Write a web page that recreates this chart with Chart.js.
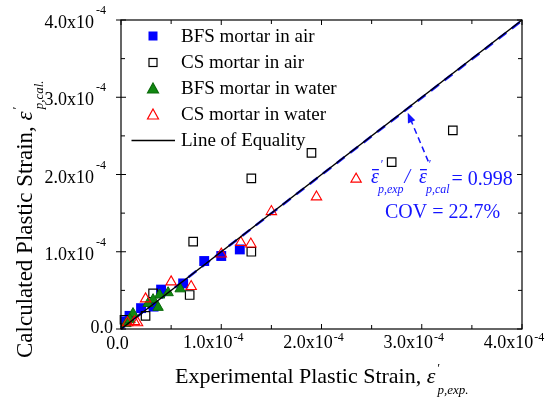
<!DOCTYPE html>
<html><head><meta charset="utf-8">
<script src="https://cdn.jsdelivr.net/npm/chart.js@4"></script>
<style>html,body{margin:0;padding:0;background:#fff}#wrap{width:559px;height:399px}</style>
</head><body><div id="wrap"><canvas id="c" width="559" height="399"></canvas></div>
<script>
// values in units of 1e-4
const bfsAirExp = [0.05, 0.085, 0.20, 0.325, 0.40, 0.62, 0.83, 1.00, 1.185];
const bfsAirCal = [0.10, 0.17, 0.27, 0.29, 0.51, 0.59, 0.88, 0.945, 1.03];
const csAirExp = [3.31, 2.70, 1.90, 1.30, 0.72, 1.30, 0.685, 0.32, 0.245, 0.035];
const csAirCal = [2.57, 2.16, 2.28, 1.95, 1.13, 1.00, 0.44, 0.46, 0.17, 0.12];
const bfsWaterExp = [0.47, 0.59, 0.385, 0.32, 0.37, 0.12, 0.05, 0.27, 0.09];
const bfsWaterCal = [0.47, 0.52, 0.44, 0.38, 0.28, 0.20, 0.07, 0.33, 0.12];
const csWaterExp = [2.345, 1.95, 1.50, 1.195, 1.295, 1.00, 0.50, 0.70, 0.245, 0.135, 0.165, 0.065];
const csWaterCal = [1.94, 1.71, 1.52, 1.12, 1.10, 0.97, 0.61, 0.55, 0.39, 0.095, 0.08, 0.08];
const equalityX = [0, 4];
const equalityY = [0, 4];
const fitY = [0, 3.992];
const seriesNames = ['BFS mortar in air', 'CS mortar in air', 'BFS mortar in water', 'CS mortar in water', 'Line of Equality'];
const tickValues = [0, 1, 2, 3, 4];
const minorTickValues = [0.5, 1.5, 2.5, 3.5];
const tickMantissa = ['0.0', '1.0x10', '2.0x10', '3.0x10', '4.0x10'];
const tickExponent = ['', '-4', '-4', '-4', '-4'];
const ratioText = '= 0.998';
const covText = 'COV = 22.7%';
const arrowFrom = [3.065, 2.17];
const arrowTo = [2.86, 2.80];

const pts = (xs, ys) => xs.map((x, i) => ({x: x, y: ys[i]}));
const SERIF = '"Liberation Serif", "Times New Roman", serif';
const BLUE = '#1414ff';

const decor = {
  id: 'decor',
  afterDraw(chart) {
    const ctx = chart.ctx, a = chart.chartArea, xs = chart.scales.x, ys = chart.scales.y;
    ctx.save();
    // frame
    ctx.strokeStyle = '#000'; ctx.lineWidth = 1.2;
    ctx.strokeRect(a.left, a.top, a.right - a.left, a.bottom - a.top);
    // ticks
    ctx.lineWidth = 1;
    ctx.beginPath();
    tickValues.forEach(v => {
      const px = xs.getPixelForValue(v), py = ys.getPixelForValue(v);
      ctx.moveTo(px, a.bottom); ctx.lineTo(px, a.bottom - 5);
      ctx.moveTo(px, a.top); ctx.lineTo(px, a.top + 5);
      ctx.moveTo(a.left - 5, py); ctx.lineTo(a.left + 5, py);
      ctx.moveTo(a.right, py); ctx.lineTo(a.right - 5, py);
    });
    minorTickValues.forEach(v => {
      const px = xs.getPixelForValue(v), py = ys.getPixelForValue(v);
      ctx.moveTo(px, a.bottom); ctx.lineTo(px, a.bottom - 4);
      ctx.moveTo(px, a.top); ctx.lineTo(px, a.top + 4);
      ctx.moveTo(a.left, py); ctx.lineTo(a.left + 4, py);
      ctx.moveTo(a.right, py); ctx.lineTo(a.right - 4, py);
    });
    ctx.stroke();
    // tick labels
    ctx.fillStyle = '#000';
    ctx.textBaseline = 'alphabetic';
    const mainF = '18px ' + SERIF, supF = '12px ' + SERIF;
    tickValues.forEach((v, i) => {
      ctx.font = mainF; const w1 = ctx.measureText(tickMantissa[i]).width;
      ctx.font = supF; const w2 = tickExponent[i] ? ctx.measureText(tickExponent[i]).width + 2 : 0;
      // x labels
      const px = xs.getPixelForValue(v);
      const left = px - (w1 + w2) / 2 - (w2 ? 7.5 : 3.5);
      ctx.textAlign = 'left';
      ctx.font = mainF; ctx.fillText(tickMantissa[i], left, a.bottom + (w2 ? 19 : 20));
      if (w2) { ctx.font = supF; ctx.fillText(tickExponent[i], left + w1 + 1, a.bottom + 12); }
      // y labels
      const py = ys.getPixelForValue(v);
      const right = w2 ? a.left - 15 : a.left - 8;
      ctx.font = mainF; ctx.fillText(tickMantissa[i], right - w2 - w1, py + (w2 ? 8 : 4));
      if (w2) { ctx.font = supF; ctx.fillText(tickExponent[i], right - w2 + 2, py - 6); }
    });
    // axis titles
    const drawTitle = (txt, sub, size) => {
      ctx.font = size + 'px ' + SERIF; ctx.textAlign = 'left';
      let w = ctx.measureText(txt).width;
      ctx.fillText(txt, 0, 0);
      ctx.font = 'italic ' + size + 'px ' + SERIF;
      ctx.fillText('\u03b5', w, 0);
      const we = ctx.measureText('\u03b5').width;
      ctx.font = 'italic 13px ' + SERIF;
      ctx.fillText('\u2032', w + we + 1, -11);
      ctx.fillText(sub, w + we + 2, 11);
    };
    ctx.save();
    ctx.translate(175, 383);
    drawTitle('Experimental Plastic Strain, ', 'p,exp.', 22);
    ctx.restore();
    ctx.save();
    ctx.translate(32, 358); ctx.rotate(-Math.PI / 2);
    drawTitle('Calculated Plastic Strain, ', 'p,cal.', 23);
    ctx.restore();
    // legend
    const rowsY = [36, 62.5, 88.5, 114.5, 140.5];
    const mx = 153;
    ctx.font = '19px ' + SERIF; ctx.textBaseline = 'middle'; ctx.textAlign = 'left'; ctx.fillStyle = '#000';
    seriesNames.forEach((n, i) => ctx.fillText(n, 181, rowsY[i] + 1));
    ctx.fillStyle = '#0000ff'; ctx.fillRect(mx - 4.5, rowsY[0] - 4.5, 9, 9);
    ctx.strokeStyle = '#000'; ctx.lineWidth = 1.2; ctx.strokeRect(mx - 4, rowsY[1] - 4, 8, 8);
    const tri = (cy, fill, stroke) => {
      ctx.beginPath(); ctx.moveTo(mx, cy - 5.5); ctx.lineTo(mx + 5.5, cy + 4.5); ctx.lineTo(mx - 5.5, cy + 4.5); ctx.closePath();
      if (fill) { ctx.fillStyle = fill; ctx.fill(); }
      ctx.strokeStyle = stroke; ctx.lineWidth = 1.2; ctx.stroke();
    };
    tri(rowsY[2], '#118811', '#0a6a0a');
    tri(rowsY[3], null, '#ff0000');
    ctx.strokeStyle = '#000'; ctx.lineWidth = 1.5;
    ctx.beginPath(); ctx.moveTo(131.5, rowsY[4]); ctx.lineTo(175, rowsY[4]); ctx.stroke();
    // annotation arrow
    const fx = xs.getPixelForValue(arrowFrom[0]), fy = ys.getPixelForValue(arrowFrom[1]);
    const tx = xs.getPixelForValue(arrowTo[0]), ty = ys.getPixelForValue(arrowTo[1]);
    const ang = Math.atan2(ty - fy, tx - fx);
    ctx.strokeStyle = BLUE; ctx.lineWidth = 1.5; ctx.setLineDash([6, 4]);
    ctx.beginPath(); ctx.moveTo(fx, fy);
    ctx.lineTo(tx - 8 * Math.cos(ang), ty - 8 * Math.sin(ang)); ctx.stroke();
    ctx.setLineDash([]);
    ctx.fillStyle = BLUE;
    ctx.beginPath(); ctx.moveTo(tx, ty);
    ctx.lineTo(tx - 10 * Math.cos(ang) + 4 * Math.sin(ang), ty - 10 * Math.sin(ang) - 4 * Math.cos(ang));
    ctx.lineTo(tx - 10 * Math.cos(ang) - 4 * Math.sin(ang), ty - 10 * Math.sin(ang) + 4 * Math.cos(ang));
    ctx.closePath(); ctx.fill();
    // annotation text
    ctx.textBaseline = 'alphabetic'; ctx.textAlign = 'left';
    const epsBar = (x, base, sub) => {
      ctx.font = 'italic 20px ' + SERIF;
      ctx.fillText('\u03b5', x, base);
      const w = ctx.measureText('\u03b5').width;
      ctx.fillRect(x + 1, base - 14, w - 1, 1.3);
      ctx.font = 'italic 12px ' + SERIF;
      ctx.fillText('\u2032', x + w + 1, base - 15);
      ctx.fillText(sub, x + w - 1, base + 10);
      return x + w - 1 + ctx.measureText(sub).width;
    };
    let x = epsBar(371, 183, 'p,exp');
    ctx.font = 'italic 20px ' + SERIF; ctx.fillText('/', x + 1, 183);
    x = epsBar(419, 183, 'p,cal');
    ctx.font = '20px ' + SERIF; ctx.fillText(ratioText, x + 2, 185);
    ctx.font = '20px ' + SERIF; ctx.fillText(covText, 385, 218);
    ctx.restore();
  }
};

new Chart(document.getElementById('c'), {
  type: 'scatter',
  data: {
    datasets: [
      {label: seriesNames[4], type: 'line', data: pts(equalityX, equalityY), borderColor: '#000', borderWidth: 1.5, pointRadius: 0, showLine: true, clip: false},
      {label: seriesNames[3], data: pts(csWaterExp, csWaterCal), pointStyle: 'triangle', pointRadius: 6, borderColor: '#ff0000', backgroundColor: 'rgba(255,255,255,0)', borderWidth: 1.1, clip: false},
      {label: seriesNames[2], data: pts(bfsWaterExp, bfsWaterCal), pointStyle: 'triangle', pointRadius: 6, borderColor: '#0a6a0a', backgroundColor: '#118811', borderWidth: 1, clip: false},
      {label: seriesNames[1], data: pts(csAirExp, csAirCal), pointStyle: 'rect', pointRadius: 6, borderColor: '#000', backgroundColor: 'rgba(255,255,255,0)', borderWidth: 1.2, clip: false},
      {label: seriesNames[0], data: pts(bfsAirExp, bfsAirCal), pointStyle: 'rect', pointRadius: 7, borderColor: '#0000ff', backgroundColor: '#0000ff', borderWidth: 0, clip: false},
      {label: 'fit', type: 'line', data: pts(equalityX, fitY), borderColor: BLUE, borderWidth: 2.5, borderDash: [10, 7], pointRadius: 0, showLine: true, clip: false}
    ]
  },
  options: {
    responsive: false, animation: false, devicePixelRatio: 1,
    layout: {padding: {left: 121, top: 20, right: 37, bottom: 70}},
    scales: {
      x: {type: 'linear', min: 0, max: 4, display: false},
      y: {type: 'linear', min: 0, max: 4, display: false}
    },
    plugins: {legend: {display: false}, tooltip: {enabled: false}}
  },
  plugins: [decor]
});
</script></body></html>
